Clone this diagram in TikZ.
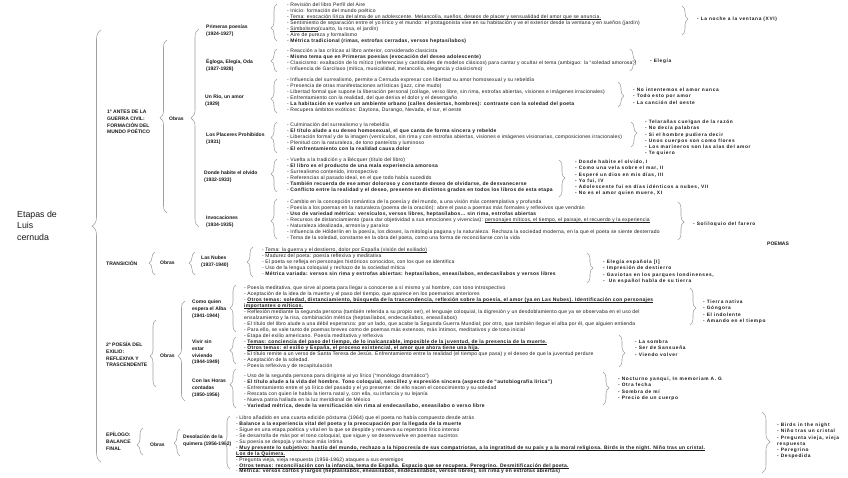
\documentclass[tikz,border=0pt]{standalone}
\usepackage{fontspec}
\setmainfont{Liberation Sans}
\usetikzlibrary{decorations.pathreplacing}
\newcommand{\undl}[1]{\setbox0=\hbox{#1}\rlap{\rule[-0.9pt]{\wd0}{0.35pt}}\box0}
\newcommand{\bld}[1]{{\bfseries\addfontfeature{LetterSpace=6}#1}}
\newcommand{\bul}[1]{\bld{\undl{#1}}}
\tikzset{
  brc/.style={draw=gray!75, line width=0.55pt, decorate,
    decoration={brace, amplitude=6pt, aspect=#1}},
  brc/.default=0.5,
  txt/.style={anchor=north west, inner sep=0pt, align=left, text=black!90,
    font=\fontsize{5}{5.9}\selectfont\addfontfeature{LetterSpace=4}},
  poem/.style={txt, font=\fontsize{4.8}{6.2}\selectfont\bfseries\addfontfeature{LetterSpace=14}},
  lbl/.style={txt, font=\fontsize{5}{6.7}\selectfont\bfseries},
}
\begin{document}
\begin{tikzpicture}[x=1pt, y=-1pt]
  \fill[white] (0,0) rectangle (848,477);
  \useasboundingbox (0,0) rectangle (848,477);
  % title and stages
  \node[txt, font=\fontsize{8.8}{11.5}\selectfont] (title) at (17,210.5) {Etapas de\\Luis\\cernuda};
  \node[lbl] (s1) at (107,110) {1º ANTES DE LA\\GUERRA CIVIL:\\FORMACIÓN DEL\\MUNDO POÉTICO};
  \node[lbl] (s2) at (106,261) {TRANSICIÓN};
  \node[lbl] (s3) at (106,342) {2º POESÍA DEL\\EXILIO:\\REFLEXIVA Y\\TRASCENDENTE};
  \node[lbl] (s4) at (106,432) {EPÍLOGO:\\BALANCE\\FINAL};
  \node[lbl] (o1) at (169,117) {Obras};
  \node[lbl] (o2) at (160,261) {Obras};
  \node[lbl] (o3) at (160,354) {Obras};
  \node[lbl] (o4) at (150,443) {Obras};
  % works
  \node[lbl] (w1) at (206,25) {Primeras poesías\\(1924-1927)};
  \node[lbl] (w2) at (206,59) {Égloga, Elegía, Oda\\(1927-1928)};
  \node[lbl] (w3) at (205,95) {Un Río, un amor\\(1929)};
  \node[lbl] (w4) at (206,133) {Los Placeres Prohibidos\\(1931)};
  \node[lbl] (w5) at (204,171) {Donde habite el olvido\\(1932-1933)};
  \node[lbl] (w6) at (206,216) {Invocaciones\\(1934-1935)};
  \node[lbl] (w7) at (201,256) {Las Nubes\\(1937-1940)};
  \node[lbl] (w8) at (192,300) {Como quien\\espera el Alba\\(1941-1944)};
  \node[lbl] (w9) at (192,340) {Vivir sin\\estar\\viviendo\\(1944-1949)};
  \node[lbl] (w10) at (192,379) {Con las Horas\\contadas\\(1950-1956)};
  \node[lbl] (w11) at (183,435) {Desolación de la\\quimera (1956-1962)};
  % opening braces: x / top / bottom / aspect / amplitude
  \foreach \x/\t/\b/\a/\m in {101/30/462/0.546/9, 167/40/213/0.55/7, 199/29/227/0.55/8,
      277/4/41/0.35/6, 277/49/72/0.48/6, 277/79/113/0.42/6, 277/122/153/0.5/6,
      277/159/192/0.55/6, 277/199/239/0.45/6, 155/252/275/0.52/6, 195/252/275/0.52/6,
      253/247/277/0.5/6, 156/320/387/0.46/6, 185/301/401/0.45/7, 236/285/332/0.51/6,
      236/337/364/0.5/6, 236/369/408/0.6/6, 143/428/455/0.37/6, 180/429/456/0.48/6,
      230/416/469/0.5/6}
    \draw[brc=\a, decoration={amplitude=\m pt}] (\x,\b) -- (\x,\t);
  % closing braces
  \foreach \x/\t/\b/\a/\m in {682/6/35/0.45/6, 630/49/71/0.55/6, 618/82/107/0.56/6,
      631/122/147/0.44/6, 559/160/197/0.49/6, 678/202/240/0.53/6, 587/253/283/0.5/6,
      690/288/325/0.54/6, 619/335/367/0.56/6, 603/372/405/0.48/6, 762/412/473/0.49/8}
    \draw[brc=\a, decoration={amplitude=\m pt}] (\x,\t) -- (\x,\b);
  % notes on each book
  \node[txt] (n1) at (287,3) {- Revisión del libro Perfil del Aire\\
    - Inicio: formación del mundo poético\\
    - \undl{Tema: evocación lírica del alma de un adolescente. Melancolía, sueños, deseos de placer y sensualidad del amor que se anuncia.}\\
    - Sentimiento de separación entre el yo lírico y el mundo: el protagonista vive en su habitación y ve el exterior desde la ventana y en sueños (jardín)\\
    - \undl{Simbolismo} (cuarto, la rosa, el jardín)\\
    - Aire de pureza y formalismo\\
    - \bld{Métrica tradicional (rimas, estrofas cerradas, versos heptasílabos)}};
  \node[txt] (n2) at (287,49) {- Reacción a las críticas al libro anterior, considerado clasicista\\
    - \bld{Mismo tema que en Primeras poesías (evocación del deseo adolescente)}\\
    - Clasicismo: exaltación de lo mítico (referencias y cantidades de modelos clásicos) para cantar y ocultar el tema (ambiguo: la “soledad amorosa”)\\
    - Influencia de Garcilaso (mítica, musicalidad, melancolía, elegancia y clasicismo)};
  \node[txt] (n3) at (287,78) {- Influencia del surrealismo, permite a Cernuda expresar con libertad su amor homosexual y su rebeldía\\
    - Presencia de otras manifestaciones artísticas (jazz, cine mudo)\\
    - Libertad formal que supone la liberación personal (collage, verso libre, sin rima, estrofas abiertas, visiones e imágenes irracionales)\\
    - Enfrentamiento con la realidad, del que deriva el dolor y el desengaño\\
    - \bld{La habitación se vuelve un ambiente urbano (calles desiertas, hombres): contraste con la soledad del poeta}\\
    - Recupera ámbitos exóticos: Daytona, Durango, Nevada, el sur, el oeste};
  \node[txt] (n4) at (287,123) {- Culminación del surrealismo y la rebeldía\\
    - \bld{El título alude a su deseo homosexual, el que canta de forma sincera y rebelde}\\
    - Liberación formal y de la imagen (versículos, sin rima y con estrofas abiertas, visiones e imágenes visionarias, composiciones irracionales)\\
    - Plenitud con la naturaleza, de tono panteísta y luminoso\\
    - \bld{El enfrentamiento con la realidad causa dolor}};
  \node[txt] (n5) at (287,158) {- Vuelta a la tradición y a Bécquer (título del libro)\\
    - \bld{El libro es el producto de una mala experiencia amorosa}\\
    - Surrealismo contenido, introspectivo\\
    - Referencias al pasado ideal, en el que todo había sucedido\\
    - \bld{También recuerda de ese amor doloroso y constante deseo de olvidarse, de desvanecerse}\\
    - \bld{Conflicto entre la realidad y el deseo, presente en distintos grados en todos los libros de esta etapa}};
  \node[txt] (n6) at (287,200) {- Cambio en la concepción romántica de la poesía y del mundo, a una visión más contemplativa y profunda\\
    - Poesía a los poemas en la naturaleza (poema de la oración): abre el paso a poemas más formales y reflexivos que vendrán\\
    - \bld{Uso de variedad métrica: versículos, versos libres, heptasílabos… sin rima, estrofas abiertas}\\
    - Recursos de distanciamiento (para dar objetividad a sus emociones y vivencias): \undl{personajes míticos, el tiempo, el paisaje, el recuerdo y la experiencia}\\
    - Naturaleza idealizada, armonía y paraíso\\
    - Influencia de Hölderlin en la poesía, los dioses, la mitología pagana y la naturaleza. Rechaza la sociedad moderna, en la que el poeta se siente desterrado\\
    - Tema de la soledad, constante en la obra del poeta, como una forma de reconciliarse con la vida};
  \node[txt] (n7) at (262,248) {- \undl{Tema: la guerra y el destierro, dolor por España (visión del exiliado)}\\
    - Madurez del poeta: poesía reflexiva y meditativa\\
    - El poeta se refleja en personajes históricos conocidos, con los que se identifica\\
    - Uso de la lengua coloquial y rechazo de la sociedad mítica\\
    - \bld{Métrica variada: versos sin rima y estrofas abiertas: heptasílabos, eneasílabos, endecasílabos y versos libres}};
  \node[txt] (n8) at (244,286) {- Poesía meditativa, que sirve al poeta para llegar a conocerse a sí mismo y al hombre, con tono introspectivo\\
    - Aceptación de la idea de la muerte y el paso del tiempo, que aparece en los poemarios anteriores\\
    - \bul{Otros temas: soledad, distanciamiento, búsqueda de la trascendencia, reflexión sobre la poesía, el amor (ya en Las Nubes). Identificación con personajes}\\
    \bul{importantes o míticos.}\\
    - Reflexión mediante la segunda persona (también referida a su propio ser), el lenguaje coloquial, la digresión y un desdoblamiento que ya se observaba en el uso del\\
    ensalzamiento y la risa, combinación métrica (heptasílabos, endecasílabos, eneasílabos)\\
    - El título del libro alude a una débil esperanza: por un lado, que acabe la Segunda Guerra Mundial; por otro, que también llegue el alba por él, que alguien entienda\\
    - Para ello, se vale tanto de poemas breves como de poemas más extensos, más íntimos, meditativos y de tono inicial};
  \node[txt] (n9) at (244,334) {- Etapa del exilio americano. Poesía meditativa y reflexiva\\
    - \bul{Temas: conciencia del paso del tiempo, de lo inalcanzable, imposible de la juventud, de la presencia de la muerte.}\\
    - \bul{Otros temas: el exilio y España, el proceso existencial, el amor que ahora tiene una hija.}\\
    - El título remite a un verso de Santa Teresa de Jesús. Enfrentamiento entre la realidad (el tiempo que pasa) y el deseo de que la juventud perdure\\
    - Aceptación de la soledad.\\
    - Poesía reflexiva y de recapitulación};
  \node[txt] (n10) at (244,374) {- Uso de la segunda persona para dirigirse al yo lírico (“monólogo dramático”)\\
    - \bld{El título alude a la vida del hombre. Tono coloquial, sencillez y expresión sincera (aspecto de “autobiografía lírica”)}\\
    - Enfrentamiento entre el yo lírico del pasado y el yo presente: de ello nacen el conocimiento y su soledad\\
    - Rescata con quien le habla la tierra natal y, con ella, su infancia y su lejanía\\
    - Nueva patria hallada en la luz meridional de México\\
    - \bld{Variedad métrica, desde la versificación sin rima al endecasílabo, eneasílabo o verso libre}};
  \node[txt] (n11) at (236,416) {- Libro añadido en una cuarta edición póstuma (1964) que el poeta no había compuesto desde atrás\\
    - \bld{Balance a la experiencia vital del poeta y la preocupación por la llegada de la muerte}\\
    - Sigue en una etapa poética y vital en la que se despide y renueva su repertorio lírico intenso\\
    - Se desarrolla de más por el tono coloquial, que sigue y se desenvuelve en poemas sucintos\\
    - Su poesía se despoja y se hace más íntima\\
    - \bul{Muy presente lo subjetivo: hastío del mundo, rechazo a la hipocresía de sus compatriotas, a la ingratitud de su país y a la moral religiosa. Birds in the night. Niño tras un cristal.}\\
    \bul{Los de la Quimera.}\\
    - Pregunta vieja, vieja respuesta (1956-1962) ataques a sus enemigos\\
    - \bul{Otros temas: reconciliación con la infancia, tema de España. Espacio que se recupera. Peregrino. Desmitificación del poeta.}\\
    - \bld{Métrica: versos cortos y largos (heptasílabos, eneasílabos, endecasílabos, versos libres), sin rima y en estrofas abiertas)}};
  % poems
  \node[poem] (p1) at (697,17) {- La noche a la ventana (XVI)};
  \node[poem] (p2) at (650,59) {- Elegía};
  \node[poem] (p3) at (633,88) {- No intentemos el amor nunca\\- Todo esto por amor\\- La canción del oeste};
  \node[poem] (p4) at (645,120) {- Telarañas cuelgan de la razón\\- No decía palabras\\- Si el hombre pudiera decir\\- Unos cuerpos son como flores\\- Los marineros son las alas del amor\\- Te quiero};
  \node[poem] (p5) at (575,160) {- Donde habite el olvido, I\\- Como una vela sobre el mar, II\\- Esperé un dios en mis días, III\\- Yo fui, IV\\- Adolescente fui en días idénticos a nubes, VII\\- No es el amor quien muere, XI};
  \node[poem] (p6) at (693,222) {- Soliloquio del farero};
  \node[lbl] (poemas) at (767,242) {POEMAS};
  \node[poem] (p7) at (603,260) {- Elegía española [I]\\- Impresión de destierro\\- Gaviotas en los parques londinenses,\\- \ Un español habla de su tierra};
  \node[poem] (p8) at (703,300) {- Tierra nativa\\- Góngora\\- El indolente\\- Amando en el tiempo};
  \node[poem] (p9) at (635,340) {- La sombra\\- Ser de Sansueña\\- Viendo volver};
  \node[poem] (p10) at (618,377) {- Nocturno yanqui, In memoriam A. G\\- Otra fecha\\- Sombra de mí\\- Precio de un cuerpo};
  \node[poem] (p11) at (777,423) {- Birds in the night\\- Niño tras un cristal\\- Pregunta vieja, vieja\\respuesta\\- Peregrino\\- Despedida};
\end{tikzpicture}
\end{document}
